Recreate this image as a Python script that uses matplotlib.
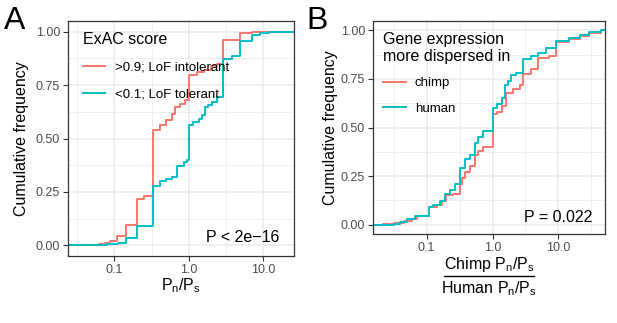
import numpy as np
import matplotlib
matplotlib.use("Agg")
import matplotlib.pyplot as plt
from matplotlib.ticker import FixedLocator, FixedFormatter, NullFormatter
from matplotlib.lines import Line2D

plt.rcParams['font.family'] = ['Liberation Sans', 'DejaVu Sans']
plt.rcParams['mathtext.fontset'] = 'custom'
plt.rcParams['mathtext.rm'] = 'Liberation Sans'
plt.rcParams['mathtext.it'] = 'Liberation Sans:italic'
plt.rcParams['mathtext.default'] = 'regular'

RED = '#F8766D'
CYAN = '#00BFC4'

# ---------------- data (ECDF step positions and cumulative levels) ----------------
# Panel A: ExAC score groups
a_labels = [">0.9; LoF intolerant", "<0.1; LoF tolerant"]
a_red_x = [0.035, 0.05, 0.062, 0.075, 0.088, 0.108, 0.143, 0.2, 0.25, 0.333, 0.41,
           0.5, 0.59, 0.65, 0.76, 0.89, 1.0, 1.3, 1.6, 2.0, 2.4, 2.9, 4.9, 7.0]
a_red_y = [0.001, 0.003, 0.005, 0.01, 0.02, 0.045, 0.096, 0.217, 0.23, 0.539, 0.562,
           0.585, 0.616, 0.647, 0.663, 0.678, 0.797, 0.81, 0.82, 0.84, 0.85, 0.963, 0.994, 1.0]
a_cyan_x = [0.04, 0.06, 0.08, 0.1, 0.111, 0.143, 0.2, 0.333, 0.41, 0.5, 0.59, 0.69,
            0.85, 0.95, 1.0, 1.15, 1.35, 1.49, 1.66, 1.83, 2.04, 2.38, 2.9, 3.78, 4.9, 7.0, 9.0, 12.0]
a_cyan_y = [0.001, 0.002, 0.004, 0.006, 0.012, 0.034, 0.091, 0.279, 0.30, 0.31, 0.32, 0.37,
            0.39, 0.40, 0.562, 0.577, 0.59, 0.61, 0.647, 0.657, 0.67, 0.695, 0.873, 0.885, 0.958, 0.985, 0.995, 1.0]
a_pvalue = "P < 2e\u221216"

# Panel B: gene expression more dispersed in chimp / human
b_labels = ["chimp", "human"]
b_red_x = [0.022, 0.032, 0.045, 0.06, 0.071, 0.11, 0.143, 0.17, 0.2, 0.25, 0.32, 0.34,
           0.38, 0.45, 0.54, 0.61, 0.72, 1.0, 1.15, 1.37, 1.63, 2.05, 2.6, 2.9, 3.9, 4.9,
           7.3, 9.3, 14.7, 21.0, 29.6, 44.0]
b_red_y = [0.005, 0.01, 0.02, 0.03, 0.045, 0.09, 0.10, 0.12, 0.15, 0.16, 0.21, 0.24,
           0.27, 0.30, 0.36, 0.38, 0.40, 0.57, 0.58, 0.61, 0.68, 0.70, 0.72, 0.776, 0.80, 0.86,
           0.87, 0.94, 0.955, 0.97, 0.985, 1.0]
b_cyan_x = [0.032, 0.04, 0.05, 0.067, 0.11, 0.127, 0.16, 0.19, 0.226, 0.27, 0.32, 0.38,
            0.45, 0.54, 0.61, 0.72, 1.0, 1.15, 1.37, 1.54, 1.73, 1.94, 2.3, 2.9, 3.9, 4.9,
            6.5, 9.3, 14.7, 21.0, 29.6, 44.0]
b_cyan_y = [0.005, 0.015, 0.03, 0.045, 0.09, 0.10, 0.12, 0.16, 0.18, 0.21, 0.29, 0.34,
            0.36, 0.42, 0.45, 0.48, 0.60, 0.62, 0.65, 0.72, 0.74, 0.77, 0.78, 0.852, 0.87, 0.885,
            0.91, 0.945, 0.96, 0.975, 0.99, 1.0]
b_pvalue = "P = 0.022"

x_ticks = [0.1, 1.0, 10.0]
x_ticklabels = ["0.1", "1.0", "10.0"]
y_ticks = [0.0, 0.25, 0.5, 0.75, 1.0]
y_ticklabels = ["0.00", "0.25", "0.50", "0.75", "1.00"]

# ---------------- figure ----------------
W, H = 617, 323
fig = plt.figure(figsize=(W / 100, H / 100), dpi=100)
axA = fig.add_axes([68 / W, 1 - 256 / H, 226 / W, 235 / H])
axB = fig.add_axes([373.3 / W, 1 - 234.3 / H, 231.7 / W, 213.6 / H])

xlimA = (0.0239, 25.7)
xlimB = (0.0155, 51.0)


def ecdf(ax, xs, ys, xlim, color, label):
    x = np.concatenate([[xlim[0]], xs, [xlim[1]]])
    y = np.concatenate([[0.0], ys, [ys[-1]]])
    ax.step(x, y, where='post', color=color, lw=1.4, label=label)


def style(ax, xlim):
    ax.set_xscale('log')
    ax.set_xlim(xlim)
    ax.set_ylim(-0.05, 1.05)
    ax.xaxis.set_major_locator(FixedLocator(x_ticks))
    ax.xaxis.set_major_formatter(FixedFormatter(x_ticklabels))
    ax.xaxis.set_minor_locator(FixedLocator([10 ** -1.5, 10 ** -0.5, 10 ** 0.5, 10 ** 1.5]))
    ax.xaxis.set_minor_formatter(NullFormatter())
    ax.yaxis.set_major_locator(FixedLocator(y_ticks))
    ax.yaxis.set_major_formatter(FixedFormatter(y_ticklabels))
    ax.yaxis.set_minor_locator(FixedLocator([0.125, 0.375, 0.625, 0.875]))
    ax.grid(which='major', color='#EBEBEB', lw=1.1)
    ax.grid(which='minor', color='#EBEBEB', lw=0.55)
    ax.set_axisbelow(True)
    ax.tick_params(which='major', length=3.3, width=0.8, color='#333333',
                   labelcolor='#4D4D4D', labelsize=9, pad=2.5)
    ax.tick_params(which='minor', length=0)
    for s in ax.spines.values():
        s.set_color('#333333')
        s.set_linewidth(0.9)


# Panel A
ecdf(axA, a_red_x, a_red_y, xlimA, RED, a_labels[0])
ecdf(axA, a_cyan_x, a_cyan_y, xlimA, CYAN, a_labels[1])
style(axA, xlimA)
axA.set_ylabel("Cumulative frequency", fontsize=11.5, va='center')
axA.yaxis.set_label_coords((22 - 68) / 226, 0.5)
axA.set_xlabel("$P_n/P_s$", fontsize=11.5, va='center')
axA.xaxis.set_label_coords(0.5, (256 - 286) / 235)
axA.text((279 - 68) / 226, (256 - 237) / 235, a_pvalue, transform=axA.transAxes,
         ha='right', va='center', fontsize=11.5)
legA = axA.legend(loc='upper left', bbox_to_anchor=(0.066, 0.954), frameon=False,
                  title="ExAC score", title_fontsize=11.5, fontsize=9.5,
                  handlelength=1.7, handletextpad=0.7, labelspacing=1.1,
                  borderpad=0, borderaxespad=0, alignment='left')

# Panel B
ecdf(axB, b_red_x, b_red_y, xlimB, RED, b_labels[0])
ecdf(axB, b_cyan_x, b_cyan_y, xlimB, CYAN, b_labels[1])
style(axB, xlimB)
axB.set_ylabel("Cumulative frequency", fontsize=11.5, va='center')
axB.yaxis.set_label_coords((331 - 373.3) / 231.7, 0.5)
axB.text(0.5, (234.3 - 265) / 213.6, "Chimp $P_n/P_s$", transform=axB.transAxes,
         ha='center', va='center', fontsize=11.5)
axB.text(0.5, (234.3 - 289) / 213.6, "Human $P_n/P_s$", transform=axB.transAxes,
         ha='center', va='center', fontsize=11.5)
axB.add_line(Line2D([(444 - 373.3) / 231.7, (534 - 373.3) / 231.7],
                    [(234.3 - 276) / 213.6] * 2, transform=axB.transAxes,
                    color='black', lw=1.0, clip_on=False))
axB.text((592 - 373.3) / 231.7, (234.3 - 218) / 213.6, b_pvalue, transform=axB.transAxes,
         ha='right', va='center', fontsize=11.5)
legB = axB.legend(loc='upper left', bbox_to_anchor=(0.043, 0.947), frameon=False,
                  title="Gene expression\nmore dispersed in", title_fontsize=11.5, fontsize=9.5,
                  handlelength=1.7, handletextpad=0.7, labelspacing=1.0,
                  borderpad=0, borderaxespad=0, alignment='left')
legB.get_title().set_linespacing(1.15)

fig.text(4 / W, 1 - 6 / H, "A", fontsize=23, ha='left', va='top')
fig.text(306 / W, 1 - 6 / H, "B", fontsize=23, ha='left', va='top')

fig.savefig("out.png", dpi=100)
